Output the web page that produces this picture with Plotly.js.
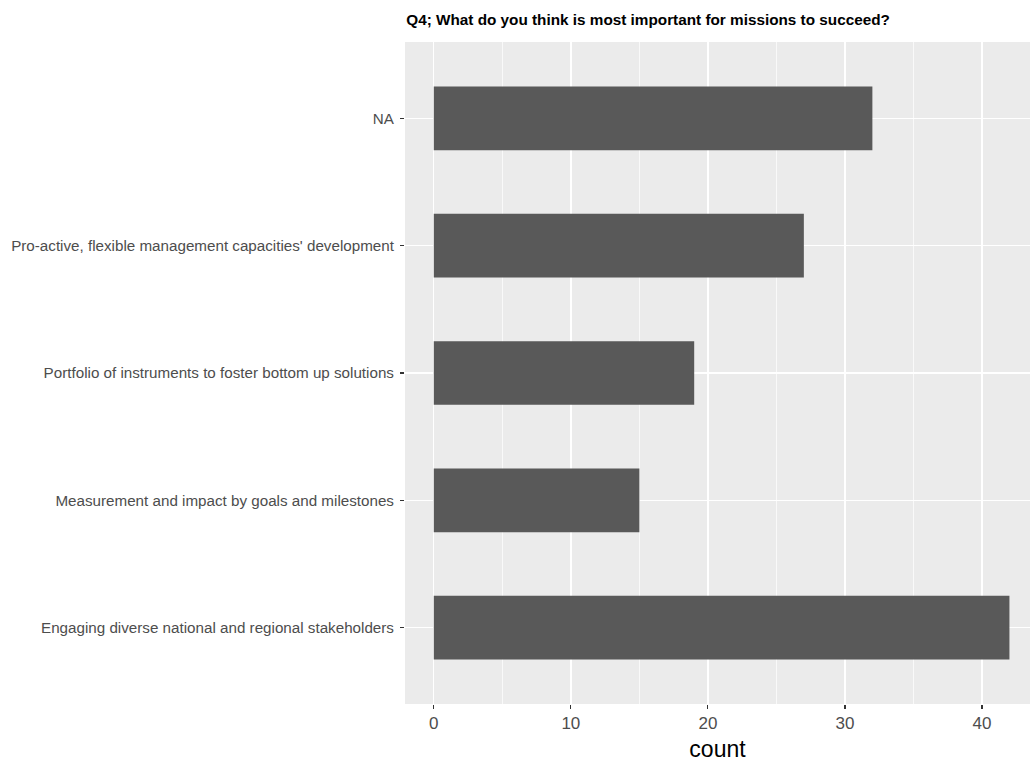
<!DOCTYPE html>
<html>
<head>
<meta charset="utf-8">
<script src="https://cdn.plot.ly/plotly-3.0.1.min.js"></script>
<style>html,body{margin:0;padding:0;background:#fff;}#chart{width:1030px;height:767px;}</style>
</head>
<body>
<div id="chart"></div>
<script>
const categories = [
  "Engaging diverse national and regional stakeholders",
  "Measurement and impact by goals and milestones",
  "Portfolio of instruments to foster bottom up solutions",
  "Pro-active, flexible management capacities' development",
  "NA"
];
const counts = [42, 15, 19, 27, 32];
const xTicks = [0, 10, 20, 30, 40];
const chartTitle = "Q4; What do you think is most important for missions to succeed?";
const xTitle = "count";

const trace = {
  type: "bar",
  orientation: "h",
  x: counts,
  y: categories,
  width: 0.5,
  marker: {color: "#595959", line: {width: 0}},
  hoverinfo: "x+y"
};

const layout = {
  width: 1030,
  height: 767,
  margin: {l: 405, r: 0, t: 41.5, b: 62.5, pad: 0},
  paper_bgcolor: "#ffffff",
  plot_bgcolor: "#ebebeb",
  font: {family: "Liberation Sans, Arial, sans-serif", color: "#4d4d4d"},
  title: {
    text: "<b>" + chartTitle + "</b>",
    font: {family: "Liberation Sans, Arial, sans-serif", size: 15.3, color: "#000000"},
    xref: "paper", x: 0.002, xanchor: "left",
    yref: "container", y: 1 - 20/767, yanchor: "middle"
  },
  bargap: 0.5,
  showlegend: false,
  xaxis: {
    range: [-2.1, 43.5],
    tickvals: xTicks,
    ticktext: xTicks.map(String),
    ticks: "outside",
    ticklen: 4,
    tickwidth: 1.1,
    tickcolor: "#333333",
    tickfont: {size: 17, color: "#4d4d4d"},
    showgrid: true,
    gridcolor: "#ffffff",
    gridwidth: 1.4,
    minor: {dtick: 5, tick0: 0, showgrid: true, gridcolor: "#ffffff", gridwidth: 0.7, ticks: ""},
    zeroline: false,
    showline: false,
    title: {text: xTitle, font: {size: 23, color: "#000000"}, standoff: 8}
  },
  yaxis: {
    type: "category",
    categoryorder: "array",
    categoryarray: categories,
    range: [-0.6, 4.6],
    ticks: "outside",
    ticklen: 4,
    tickwidth: 1.1,
    tickcolor: "#333333",
    tickfont: {size: 15.2, color: "#4d4d4d"},
    ticklabelstandoff: 3,
    showgrid: true,
    gridcolor: "#ffffff",
    gridwidth: 1.4,
    zeroline: false,
    showline: false
  }
};

Plotly.newPlot("chart", [trace], layout, {displayModeBar: false, staticPlot: true});
</script>
</body>
</html>
